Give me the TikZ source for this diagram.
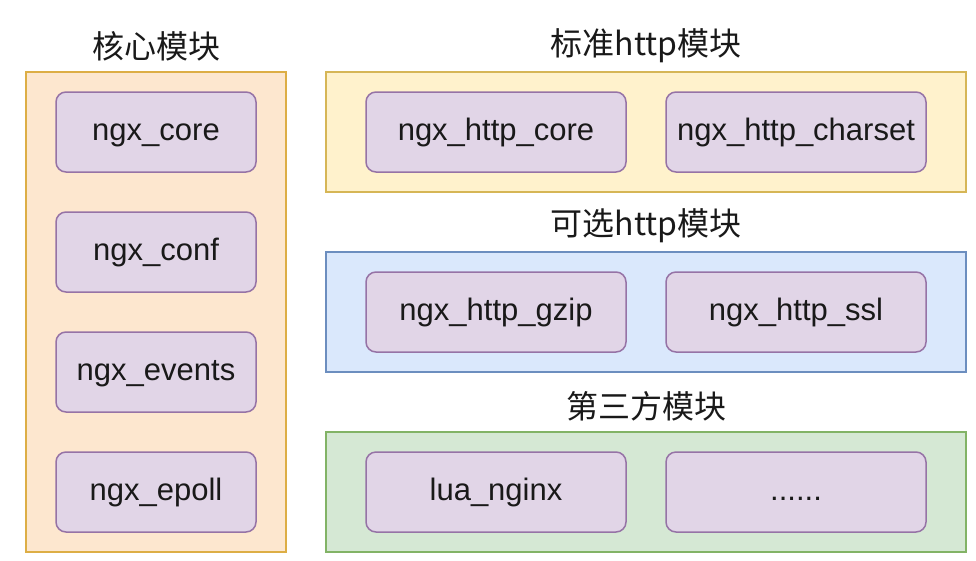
\documentclass[tikz,border=0pt]{standalone}
\usepackage{fontspec}
\setmainfont{Liberation Sans}
\newfontfamily\cjk{Noto Sans CJK SC}
\usetikzlibrary{positioning}

\definecolor{corefill}{HTML}{FDE7CF}
\definecolor{coreline}{HTML}{DDAE45}
\definecolor{stdfill}{HTML}{FFF2CC}
\definecolor{stdline}{HTML}{D6B656}
\definecolor{optfill}{HTML}{DAE8FC}
\definecolor{optline}{HTML}{6C8EBF}
\definecolor{thirdfill}{HTML}{D5E8D4}
\definecolor{thirdline}{HTML}{82B366}
\definecolor{modfill}{HTML}{E1D5E7}
\definecolor{modline}{HTML}{9673A6}

\begin{document}
\begin{tikzpicture}[
    x=1pt, y=-1pt,
    node distance=40pt and 40pt,
    every node/.style={font=\fontsize{31}{36}\selectfont, text=black!90, outer sep=0pt},
    group/.style={draw, line width=1.5pt, minimum height=120pt, minimum width=640pt, inner sep=0pt},
    modbox/.style={draw=modline, fill=modfill, line width=1.5pt, rounded corners=10pt,
                   minimum width=200pt, minimum height=80pt, inner sep=0pt,
                   text height=22.3pt, text depth=6.2pt},
    wide/.style={minimum width=260pt},
    title/.style={font=\cjk\fontsize{32}{36}\selectfont, inner sep=0pt}
]
    \useasboundingbox (0,0) rectangle (976,560);

    % containers
    \node (core) [group, fill=corefill, draw=coreline, minimum width=260pt, minimum height=480pt] at (156,312) {};
    \node (std) [group, fill=stdfill, draw=stdline] at (646,132) {};
    \node (opt) [group, fill=optfill, draw=optline] at (646,312) {};
    \node (third) [group, fill=thirdfill, draw=thirdline] at (646,492) {};

    % titles
    \node (coretitle) [title] at (156,46) {核心模块};
    \node (stdtitle) [title] at (646,46) {标准http模块};
    \node (opttitle) [title] at (646,226) {可选http模块};
    \node (thirdtitle) [title] at (646,406) {第三方模块};

    % core modules
    \node (ncore) [modbox] at (156,132) {ngx\_core};
    \node (nconf) [modbox, below=of ncore] {ngx\_conf};
    \node (nevents) [modbox, below=of nconf] {ngx\_events};
    \node (nepoll) [modbox, below=of nevents] {ngx\_epoll};

    % http modules
    \node (hcore) [modbox, wide] at (496,132) {ngx\_http\_core};
    \node (hcharset) [modbox, wide, right=of hcore] {ngx\_http\_charset};
    \node (hgzip) [modbox, wide] at (496,312) {ngx\_http\_gzip};
    \node (hssl) [modbox, wide, right=of hgzip] {ngx\_http\_ssl};

    % third party
    \node (lua) [modbox, wide] at (496,492) {lua\_nginx};
    \node (more) [modbox, wide, right=of lua] {......};
\end{tikzpicture}
\end{document}
